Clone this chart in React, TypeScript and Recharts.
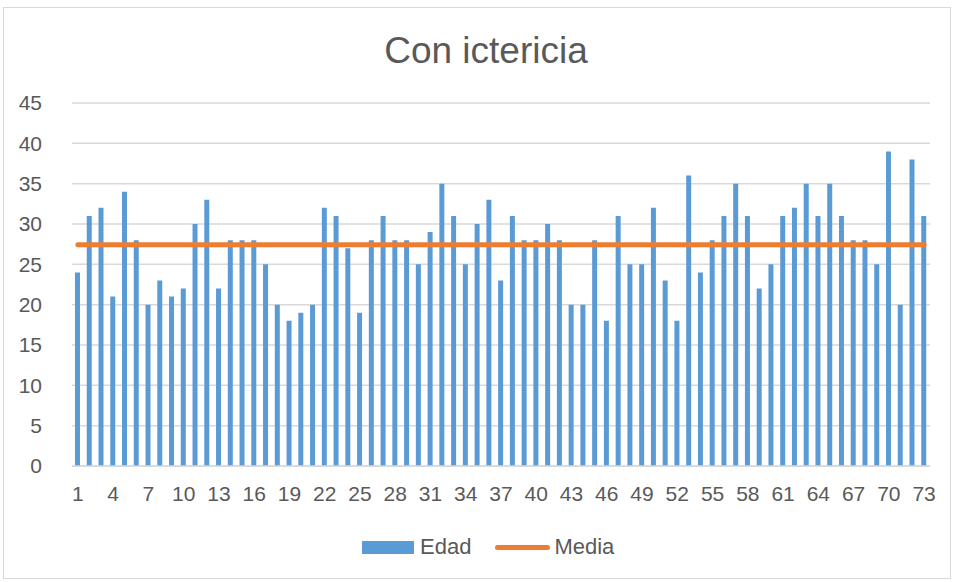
import { Bar, CartesianGrid, ComposedChart, Line, XAxis, YAxis } from "recharts";

const CASOS = Array.from({ length: 73 }, (_, i) => String(i + 1));
const EDAD = [
  24, 31, 32, 21, 34, 28, 20, 23, 21, 22,
  30, 33, 22, 28, 28, 28, 25, 20, 18, 19,
  20, 32, 31, 27, 19, 28, 31, 28, 28, 25,
  29, 35, 31, 25, 30, 33, 23, 31, 28, 28,
  30, 28, 20, 20, 28, 18, 31, 25, 25, 32,
  23, 18, 36, 24, 28, 31, 35, 31, 22, 25,
  31, 32, 35, 31, 35, 31, 28, 28, 25, 39,
  20, 38, 31,
];
const MEDIA = 27.44;
const Y_TICKS = [0, 5, 10, 15, 20, 25, 30, 35, 40, 45];

const data = CASOS.map((n, i) => ({ n, edad: EDAD[i], media: MEDIA }));

const FONT = "'Liberation Sans', Arial, sans-serif";
const GRAY = "#595959";
const TICK = { fontSize: 21, fill: GRAY, fontFamily: FONT };

function Leyenda() {
  return (
    <div style={{ position: "absolute", left: 358, top: 526, display: "flex", alignItems: "center", fontFamily: FONT, fontSize: 22, color: GRAY, lineHeight: "26px" }}>
      <span style={{ display: "inline-block", width: 52, height: 13, background: "#5B9BD5", marginRight: 6 }} />
      <span style={{ marginRight: 24 }}>Edad</span>
      <span style={{ display: "inline-block", width: 55, height: 5, borderRadius: 3, background: "#ED7D31", marginRight: 4 }} />
      <span>Media</span>
    </div>
  );
}

export default function App() {
  return (
    <div style={{ position: "absolute", left: 3, top: 7, width: 946, height: 570, border: "1px solid #d9d9d9", background: "#fff" }}>
      <div style={{ position: "absolute", top: 22, left: 9, width: 946, textAlign: "center", fontFamily: FONT, fontSize: 37, color: GRAY }}>
        Con ictericia
      </div>
      <ComposedChart width={946} height={570} data={data} margin={{ top: 95, right: 20, bottom: 52, left: 0 }}>
        <CartesianGrid vertical={false} stroke="#d9d9d9" strokeWidth={1.5} />
        <XAxis dataKey="n" interval={2} tick={TICK} tickLine={false} axisLine={{ stroke: "#d9d9d9", strokeWidth: 1.5 }} tickSize={0} tickMargin={20} height={60} />
        <YAxis domain={[0, 45]} ticks={Y_TICKS} tick={TICK} tickLine={false} axisLine={false} tickSize={0} tickMargin={30} width={68} interval={0} />
        <Bar dataKey="edad" name="Edad" fill="#5B9BD5" barSize={5} isAnimationActive={false} />
        <Line dataKey="media" name="Media" type="linear" stroke="#ED7D31" strokeWidth={5} strokeLinecap="round" dot={false} activeDot={false} isAnimationActive={false} />
      </ComposedChart>
      <Leyenda />
    </div>
  );
}
